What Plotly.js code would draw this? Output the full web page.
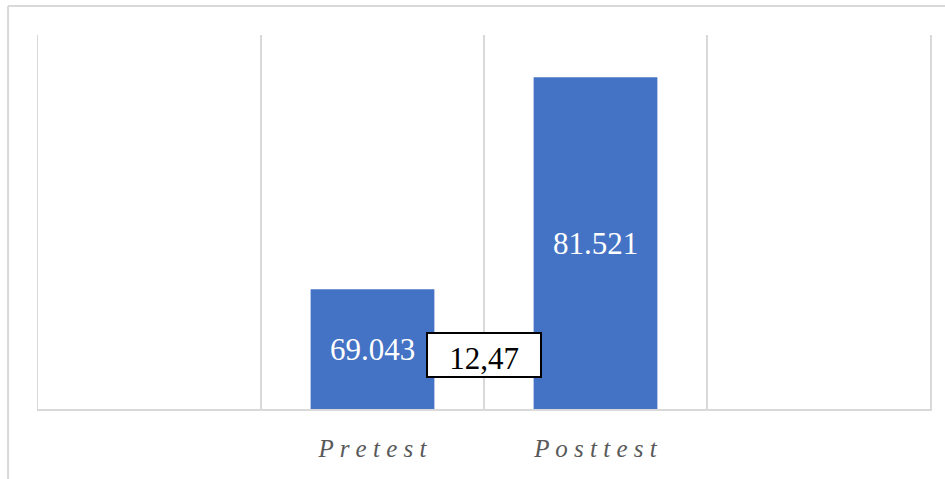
<!DOCTYPE html>
<html>
<head>
<meta charset="utf-8">
<script src="https://cdn.plot.ly/plotly-3.0.1.min.js"></script>
<style>html,body{margin:0;padding:0;background:#fff;}#chart{width:945px;height:479px;}</style>
</head>
<body>
<div id="chart"></div>
<script>
// Data
const categories = [' ', 'Pretest', 'Posttest', '  '];
const tickLabels = [' ', 'P r e t e s t', 'P o s t t e s t', '  '];
const values = [null, 69.043, 81.521, null];
const valueLabels = ['', '69.043', '81.521', ''];
const gainLabel = '12,47';
const yMin = 62;
const yMax = 84;

const gridColor = '#d9d9d9';

const trace = {
  type: 'bar',
  x: categories,
  base: yMin,
  y: values.map(v => v === null ? null : v - yMin),
  text: valueLabels,
  textposition: 'inside',
  insidetextanchor: 'middle',
  textangle: 0,
  textfont: {family: 'Liberation Serif, Times New Roman, serif', size: 31, color: '#ffffff'},
  marker: {color: '#4472C4'},
  hoverinfo: 'none'
};

const layout = {
  width: 945,
  height: 479,
  margin: {l: 38, r: 15, t: 35, b: 70},
  paper_bgcolor: '#ffffff',
  plot_bgcolor: '#ffffff',
  showlegend: false,
  bargap: 0.445,
  xaxis: {
    type: 'category',
    categoryorder: 'array',
    categoryarray: categories,
    tickvals: categories,
    ticktext: tickLabels,
    range: [-0.5, 3.5],
    tickson: 'boundaries',
    showgrid: true,
    gridcolor: gridColor,
    gridwidth: 1.5,
    showline: true,
    linecolor: gridColor,
    linewidth: 1.5,
    ticks: '',
    ticklabelstandoff: 16,
    zeroline: false,
    tickfont: {family: 'Liberation Serif, Times New Roman, serif', size: 25, color: '#595959', style: 'italic'},
    fixedrange: true
  },
  yaxis: {
    range: [yMin, yMax],
    showgrid: false,
    zeroline: false,
    showline: true,
    mirror: true,
    linecolor: gridColor,
    linewidth: 1.5,
    showticklabels: false,
    ticks: '',
    fixedrange: true
  },
  annotations: [{
    x: 1.5,
    y: 65.15,
    xref: 'x',
    yref: 'y',
    text: gainLabel,
    showarrow: false,
    font: {family: 'Liberation Serif, Times New Roman, serif', size: 31, color: '#000000'},
    bgcolor: '#ffffff',
    bordercolor: '#000000',
    borderwidth: 2,
    borderpad: 0,
    width: 112,
    height: 42,
    valign: 'bottom'
  }],
  shapes: [
    {type: 'line', xref: 'paper', yref: 'paper', x0: -0.0336, x1: 1.02, y0: 1.0775, y1: 1.0775, line: {color: gridColor, width: 2}},
    {type: 'line', xref: 'paper', yref: 'paper', x0: -0.0336, x1: -0.0336, y0: 1.0775, y1: -0.19, line: {color: gridColor, width: 2}}
  ]
};

Plotly.newPlot('chart', [trace], layout, {displayModeBar: false, staticPlot: true});
</script>
</body>
</html>
